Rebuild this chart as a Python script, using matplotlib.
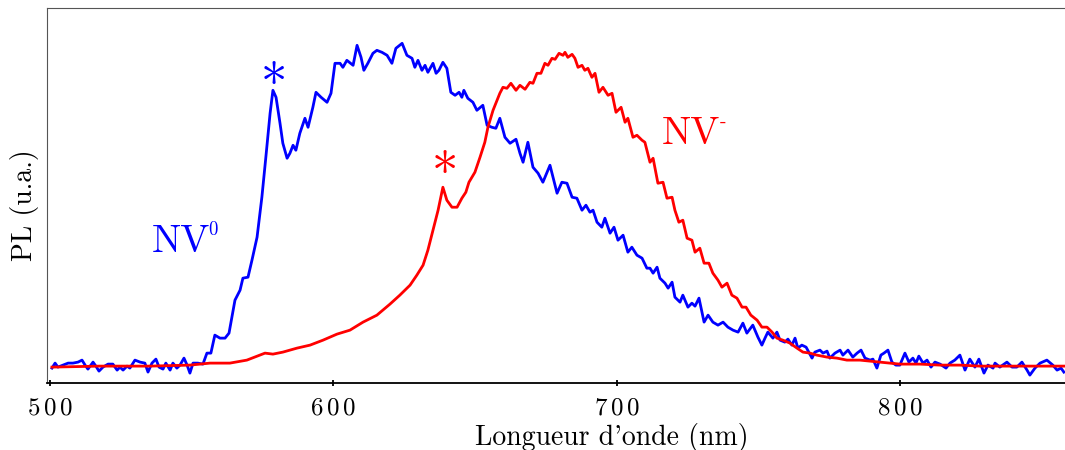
import matplotlib
matplotlib.use("Agg")
import matplotlib.pyplot as plt

plt.rcParams["font.family"] = "cmr10"
plt.rcParams["mathtext.fontset"] = "cm"
plt.rcParams["axes.unicode_minus"] = False

# NV0 spectrum (blue), wavelength in nm / PL in arbitrary units
wl_nv0 = [500.7, 501.8, 502.8, 504.6, 506.4, 508.1, 509.9, 511.3, 512.4, 513.4,
          515.2, 516.2, 517.3, 518.7, 520.5, 522.2, 523.7, 524.7, 525.8, 527.2,
          528.2, 530.0, 531.8, 533.5, 534.6, 536.0, 537.4, 538.5, 539.9, 540.9,
          542.4, 543.4, 544.8, 545.9, 547.3, 548.4, 549.4, 550.5, 552.2, 554.0,
          555.4, 556.8, 558.2, 560.0, 561.8, 563.2, 564.2, 565.3, 567.1, 568.1,
          569.9, 571.3, 573.1, 574.8, 576.2, 577.7, 578.7, 579.8, 581.2, 582.2,
          583.7, 584.7, 585.8, 586.8, 588.2, 590.0, 591.1, 592.8, 593.9, 595.7,
          597.8, 599.2, 600.6, 602.4, 603.4, 604.8, 607.0, 608.4, 609.8, 610.8,
          612.2, 614.0, 615.4, 617.2, 619.0, 620.7, 622.1, 624.3, 626.0, 627.8,
          628.8, 629.9, 631.3, 632.4, 633.4, 635.2, 636.3, 637.3, 638.7, 640.1,
          641.5, 643.0, 644.4, 645.4, 646.1, 647.5, 649.3, 650.7, 652.8, 654.3,
          656.0, 657.4, 658.8, 660.6, 662.4, 664.5, 665.9, 667.0, 668.7, 670.5,
          672.3, 674.0, 676.5, 679.0, 680.7, 682.5, 684.3, 686.0, 687.8, 689.2,
          690.6, 691.7, 693.1, 694.8, 695.9, 697.7, 699.1, 700.5, 702.3, 704.0,
          705.4, 707.2, 709.0, 710.7, 711.8, 712.9, 714.3, 715.3, 717.1, 718.2,
          719.6, 720.6, 722.4, 723.4, 725.2, 726.6, 727.7, 729.1, 730.9, 732.3,
          734.0, 735.8, 737.6, 739.3, 741.1, 742.9, 744.6, 746.0, 748.1, 749.9,
          751.3, 752.4, 753.4, 755.2, 756.6, 757.7, 759.4, 760.5, 761.9, 763.0,
          764.0, 765.4, 766.9, 769.0, 770.0, 771.8, 772.9, 774.3, 775.3, 777.1,
          778.9, 779.9, 781.7, 783.4, 784.9, 786.3, 787.7, 789.5, 790.5, 791.9,
          793.3, 794.4, 795.8, 797.2, 798.6, 800.0, 801.8, 803.2, 804.6, 805.7,
          806.7, 808.2, 809.6, 811.0, 812.4, 814.2, 816.3, 817.7, 819.4, 821.2,
          823.0, 824.7, 826.5, 827.9, 829.7, 831.1, 832.9, 833.6, 835.3, 837.8,
          839.6, 841.3, 843.1, 844.9, 845.9, 847.7, 849.5, 851.9, 854.0, 855.5,
          856.9, 857.9]
pl_nv0 = [-1, 4, 0, 2, 4, 4, 5, 7, 2, -2,
          5, 1, -4, 0, 3, 3, -3, 0, -3, 1,
          -1, 7, 5, 4, -5, 4, 8, 0, -2, 4,
          -3, 4, -1, 2, 9, 2, -6, 4, 4, 3,
          14, 14, 32, 29, 29, 34, 50, 67, 77, 89,
          90, 107, 130, 170, 210, 254, 277, 270, 244, 224,
          209, 214, 222, 217, 234, 249, 240, 260, 275, 270,
          265, 274, 304, 304, 300, 307, 302, 322, 310, 297,
          304, 314, 317, 315, 312, 304, 319, 324, 312, 309,
          300, 307, 297, 302, 295, 304, 294, 297, 305, 299,
          275, 272, 275, 270, 277, 269, 265, 257, 262, 242,
          240, 239, 249, 230, 224, 228, 214, 205, 225, 200,
          194, 185, 202, 174, 185, 184, 170, 169, 157, 162,
          155, 157, 145, 140, 149, 134, 140, 127, 132, 115,
          120, 112, 109, 99, 99, 94, 100, 89, 84, 79,
          85, 70, 65, 72, 60, 64, 61, 69, 45, 52,
          45, 42, 45, 40, 37, 35, 44, 34, 42, 30,
          22, 29, 35, 29, 35, 27, 25, 28, 22, 29,
          19, 22, 20, 9, 15, 17, 14, 16, 9, 14,
          17, 12, 17, 10, 14, 17, 9, 7, 8, -1,
          12, 14, 17, 5, 2, 2, 14, 5, 9, 4,
          11, 4, 7, 0, 5, 3, -1, 4, 7, 12,
          -3, 8, 0, 8, -6, 2, -1, 4, 0, 5,
          0, 0, 5, -3, -8, -1, 4, 7, 2, -3,
          -1, -5]

# NV- spectrum (red)
wl_nvm = [500.7, 517.6, 535.3, 549.4, 556.5, 563.5, 569.5, 573.1, 575.9, 578.7,
          582.2, 587.2, 591.8, 596.4, 601.3, 605.9, 610.5, 615.4, 620.0, 623.5,
          627.1, 629.5, 631.7, 633.4, 635.2, 637.0, 638.7, 640.1, 641.9, 643.7,
          645.4, 646.8, 647.9, 650.0, 651.8, 653.5, 654.6, 656.4, 657.8, 658.8,
          659.9, 661.3, 662.7, 664.5, 665.9, 667.7, 669.4, 670.5, 671.9, 673.3,
          674.7, 675.8, 677.2, 678.3, 679.7, 681.1, 681.8, 682.8, 684.3, 685.3,
          686.4, 687.8, 688.8, 689.9, 691.3, 692.4, 693.8, 695.2, 697.0, 698.4,
          699.8, 701.6, 703.0, 704.0, 705.8, 707.2, 709.0, 710.0, 711.8, 712.9,
          714.6, 716.4, 717.8, 719.6, 720.6, 722.0, 723.4, 724.9, 726.6, 727.7,
          729.4, 730.9, 732.6, 734.0, 735.8, 737.2, 739.0, 740.7, 742.5, 744.3,
          745.7, 747.4, 749.6, 751.3, 753.1, 754.9, 756.6, 758.7, 761.2, 763.7,
          765.8, 768.3, 770.7, 774.3, 777.8, 781.3, 785.9, 789.5, 793.0, 796.5,
          800.0, 807.1, 814.2, 821.2, 828.3, 835.3, 842.4, 849.5, 858.3]
pl_nvm = [0, 1, 1, 2, 4, 4, 7, 11, 14, 13,
          15, 19, 22, 27, 33, 37, 45, 52, 63, 72,
          82, 92, 102, 117, 137, 157, 180, 167, 160, 160,
          169, 175, 185, 195, 210, 225, 240, 257, 267, 274,
          280, 279, 284, 277, 282, 278, 285, 284, 294, 294,
          304, 302, 309, 308, 314, 312, 315, 310, 313, 309,
          300, 302, 297, 299, 290, 294, 275, 280, 272, 274,
          255, 260, 245, 249, 230, 232, 227, 225, 205, 209,
          184, 185, 169, 170, 157, 145, 147, 129, 127, 115,
          119, 104, 104, 94, 87, 80, 84, 72, 69, 60,
          60, 52, 47, 40, 40, 35, 29, 27, 24, 19,
          15, 14, 12, 10, 9, 7, 7, 6, 5, 4,
          3, 3, 2, 2, 1, 1, 1, 1, 1]

ticks = [500, 600, 700, 800]
tick_labels = [r"$" + r"\,".join(str(t)) + r"$" for t in ticks]

blue = "#0000ff"
red = "#ff0000"

fig = plt.figure(figsize=(10.65, 4.5), dpi=100)
ax = fig.add_axes([0.0444, 0.148, 0.9556, 0.835])

ax.plot(wl_nv0, pl_nv0, color=blue, lw=2.0)
ax.plot(wl_nvm, pl_nvm, color=red, lw=2.0)

ax.set_xlim(499.05, 858.3)
ax.set_ylim(-16.3, 359.7)

# stars over the zero-phonon lines
ax.text(578.9, 280, "*", color=blue, fontsize=38, ha="center", va="center")
ax.text(639.2, 190.5, "*", color=red, fontsize=38, ha="center", va="center")

# NV0 / NV- names, small superscripts drawn separately
ax.text(535.9, 115.3, "NV", color=blue, fontsize=28, ha="left", va="baseline")
ax.text(555.8, 132, "0", color=blue, fontsize=13.5, ha="left", va="baseline")
ax.text(715.9, 223.7, "NV", color=red, fontsize=28, ha="left", va="baseline")
ax.text(736.3, 240.5, "-", color=red, fontsize=14, ha="left", va="baseline")

ax.set_xticks(ticks)
ax.set_xticklabels(tick_labels)
ax.set_yticks([])
ax.tick_params(axis="x", direction="inout", length=4, width=1.3, labelsize=18, pad=8)

ax.spines["right"].set_visible(False)
ax.spines["top"].set_color("#555555")
ax.spines["left"].set_color("#555555")
ax.spines["bottom"].set_linewidth(1.3)

ax.set_xlabel("Longueur d'onde (nm)", fontsize=20)
ax.xaxis.set_label_coords(0.555, -0.105)
ax.set_ylabel("PL (u.a.)", fontsize=20)
ax.yaxis.set_label_coords(-0.008, 0.474)

plt.savefig("out.png", dpi=100)
